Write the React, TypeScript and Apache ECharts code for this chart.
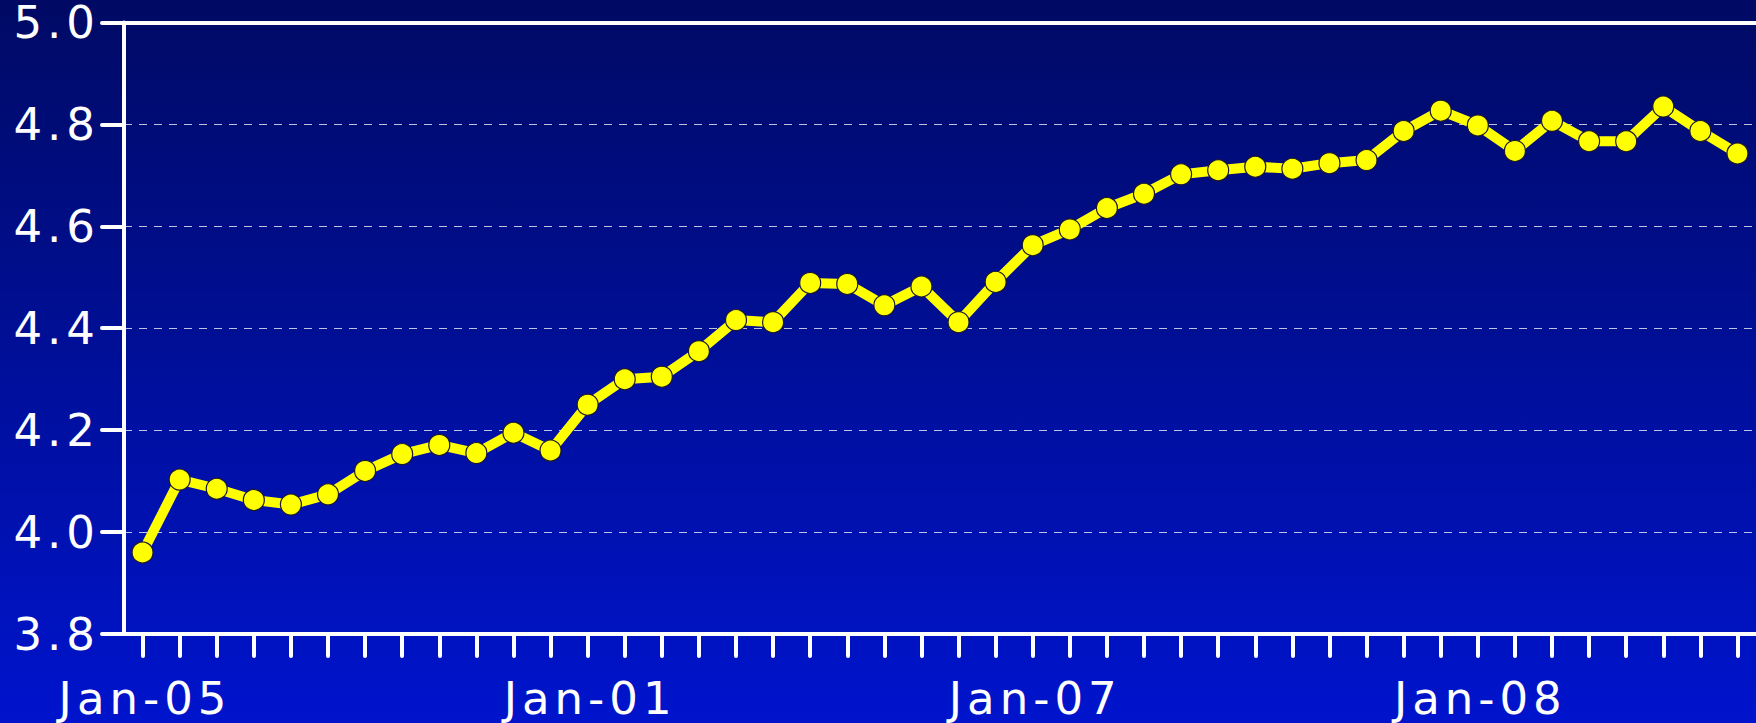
import React, { useEffect, useRef } from "react";
import * as echarts from "echarts";

const categories: string[] = [
  "Jan-05", "Feb-05", "Mar-05", "Apr-05", "May-05", "Jun-05", "Jul-05", "Aug-05", "Sep-05", "Oct-05", "Nov-05", "Dec-05",
  "Jan-01", "Feb-06", "Mar-06", "Apr-06", "May-06", "Jun-06", "Jul-06", "Aug-06", "Sep-06", "Oct-06", "Nov-06", "Dec-06",
  "Jan-07", "Feb-07", "Mar-07", "Apr-07", "May-07", "Jun-07", "Jul-07", "Aug-07", "Sep-07", "Oct-07", "Nov-07", "Dec-07",
  "Jan-08", "Feb-08", "Mar-08", "Apr-08", "May-08", "Jun-08", "Jul-08", "Aug-08",
];

const values: number[] = [
  3.96, 4.103, 4.085, 4.063, 4.054, 4.074, 4.12, 4.153, 4.171, 4.155, 4.195, 4.16,
  4.25, 4.3, 4.305, 4.355, 4.416, 4.412, 4.489, 4.487, 4.445, 4.482, 4.412, 4.491,
  4.563, 4.594, 4.636, 4.664, 4.702, 4.71, 4.717, 4.713, 4.724, 4.73, 4.787, 4.827,
  4.798, 4.748, 4.807, 4.767, 4.767, 4.835, 4.787, 4.743,
];

const yMin = 3.8;
const yMax = 5.0;
const yStep = 0.2;

export default function App() {
  const ref = useRef<HTMLDivElement>(null);
  useEffect(() => {
    if (!ref.current) return;
    const chart = echarts.init(ref.current, null, { renderer: "svg" });
    const font = "DejaVu Sans";
    chart.setOption({
      animation: false,
      backgroundColor: {
        type: "linear",
        x: 0,
        y: 0,
        x2: 0,
        y2: 1,
        colorStops: [
          { offset: 0, color: "#000a64" },
          { offset: 1, color: "#0014cd" },
        ],
      },
      grid: { left: 124, right: 0, top: 22.5, bottom: 89, containLabel: false },
      xAxis: [
        {
          type: "category",
          data: categories,
          boundaryGap: true,
          axisLine: { show: true, lineStyle: { color: "#ffffff", width: 4 } },
          axisTick: {
            show: true,
            alignWithLabel: true,
            interval: 0,
            length: 22,
            lineStyle: { color: "#ffffff", width: 4, cap: "round" },
          },
          axisLabel: {
            interval: 11,
            color: "#ffffff",
            fontFamily: font,
            fontSize: 45,
            lineHeight: 40,
            margin: 44,
            padding: [0, 0, 0, 5],
          },
          splitLine: { show: false },
        },
        {
          type: "category",
          data: categories,
          position: "top",
          axisLine: { show: true, lineStyle: { color: "#ffffff", width: 4 } },
          axisTick: { show: false },
          axisLabel: { show: false },
          splitLine: { show: false },
        },
      ],
      yAxis: {
        type: "value",
        min: yMin,
        max: yMax,
        interval: yStep,
        axisLine: { show: true, lineStyle: { color: "#ffffff", width: 4 } },
        axisTick: {
          show: true,
          length: 22,
          lineStyle: { color: "#ffffff", width: 4, cap: "round" },
        },
        axisLabel: {
          color: "#ffffff",
          fontFamily: font,
          fontSize: 45,
          lineHeight: 40,
          margin: 24,
          formatter: (v: number) => v.toFixed(1),
        },
        splitLine: {
          show: true,
          lineStyle: { color: "rgba(255,255,255,0.75)", width: 1, type: [8, 7] },
        },
      },
      series: [
        {
          type: "line",
          data: values,
          xAxisIndex: 0,
          symbol: "circle",
          symbolSize: 21,
          lineStyle: { color: "#ffff00", width: 10 },
          itemStyle: { color: "#ffff00", borderColor: "#1a1a30", borderWidth: 1.2 },
          z: 5,
        },
      ],
    });
    return () => chart.dispose();
  }, []);
  return (
    <div
      ref={ref}
      style={{
        position: "fixed",
        left: 0,
        top: 0,
        width: "1756px",
        height: "723px",
        letterSpacing: "5px",
      }}
    />
  );
}
